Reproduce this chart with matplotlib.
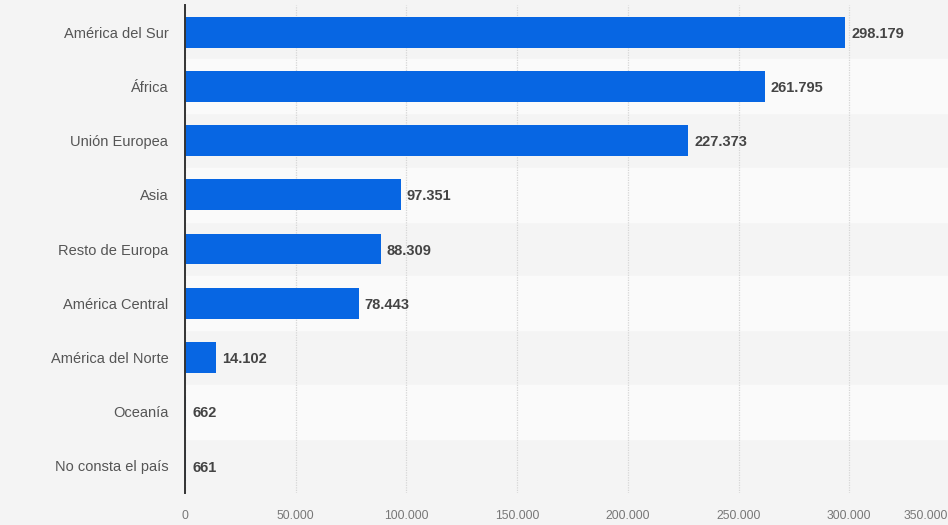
import matplotlib
matplotlib.use('Agg')
from matplotlib import pyplot as plt
from matplotlib.transforms import ScaledTranslation

CATEGORIES = ['América del Sur', 'África', 'Unión Europea', 'Asia', 'Resto de Europa',
              'América Central', 'América del Norte', 'Oceanía', 'No consta el país']
VALUES = [298179, 261795, 227373, 97351, 88309, 78443, 14102, 662, 661]
TICKS = [0, 50000, 100000, 150000, 200000, 250000, 300000, 350000]


def fmt(v):
    return f'{v:,}'.replace(',', '.')


def main():
    plt.rcParams['font.family'] = ['Liberation Sans', 'DejaVu Sans']
    W, H = 948, 525
    fig = plt.figure(figsize=(W / 100, H / 100), dpi=100)
    fig.patch.set_facecolor('#f4f4f4')

    left, right, top, bottom = 185, 960, 5, 493
    ax = fig.add_axes([left / W, 1 - bottom / H, (right - left) / W, (bottom - top) / H])
    ax.set_facecolor('none')

    n = len(CATEGORIES)
    ypos = list(range(n))
    ax.set_ylim(n - 0.5, -0.5)
    ax.set_xlim(0, 350000)

    # alternating row bands
    for i in ypos:
        if i % 2 == 1:
            ax.axhspan(i - 0.5, i + 0.5, color='#fafafa', zorder=0)

    ax.barh(ypos, VALUES, height=0.57, color='#0766e3', zorder=3)

    for i, v in zip(ypos, VALUES):
        ax.annotate(fmt(v), (v, i), xytext=(4.3, -1.2), textcoords='offset points',
                    va='center', ha='left', fontsize=10.5, fontweight='bold',
                    color='#444444', zorder=4)

    ax.set_yticks(ypos)
    ax.set_yticklabels(CATEGORIES, fontsize=10.5, color='#555555')
    ax.tick_params(axis='y', length=0, pad=12)

    ax.set_xticks(TICKS)
    ax.set_xticklabels([fmt(t) for t in TICKS], fontsize=8.7, color='#777777')
    ax.tick_params(axis='x', length=0, pad=12)
    last = ax.get_xticklabels()[-1]
    last.set_horizontalalignment('right')
    last.set_transform(last.get_transform() + ScaledTranslation(-0.12, 0, fig.dpi_scale_trans))

    ax.grid(axis='x', linestyle=(0, (1, 1)), color='#d6d6d6', linewidth=0.9, zorder=1)
    ax.grid(axis='y', visible=False)
    for s in ['top', 'right', 'bottom']:
        ax.spines[s].set_visible(False)
    ax.spines['left'].set_color('#333333')
    ax.spines['left'].set_linewidth(1.4)
    ax.spines['left'].set_zorder(5)

    fig.savefig('out.png', dpi=100, facecolor=fig.get_facecolor())


if __name__ == '__main__':
    main()
